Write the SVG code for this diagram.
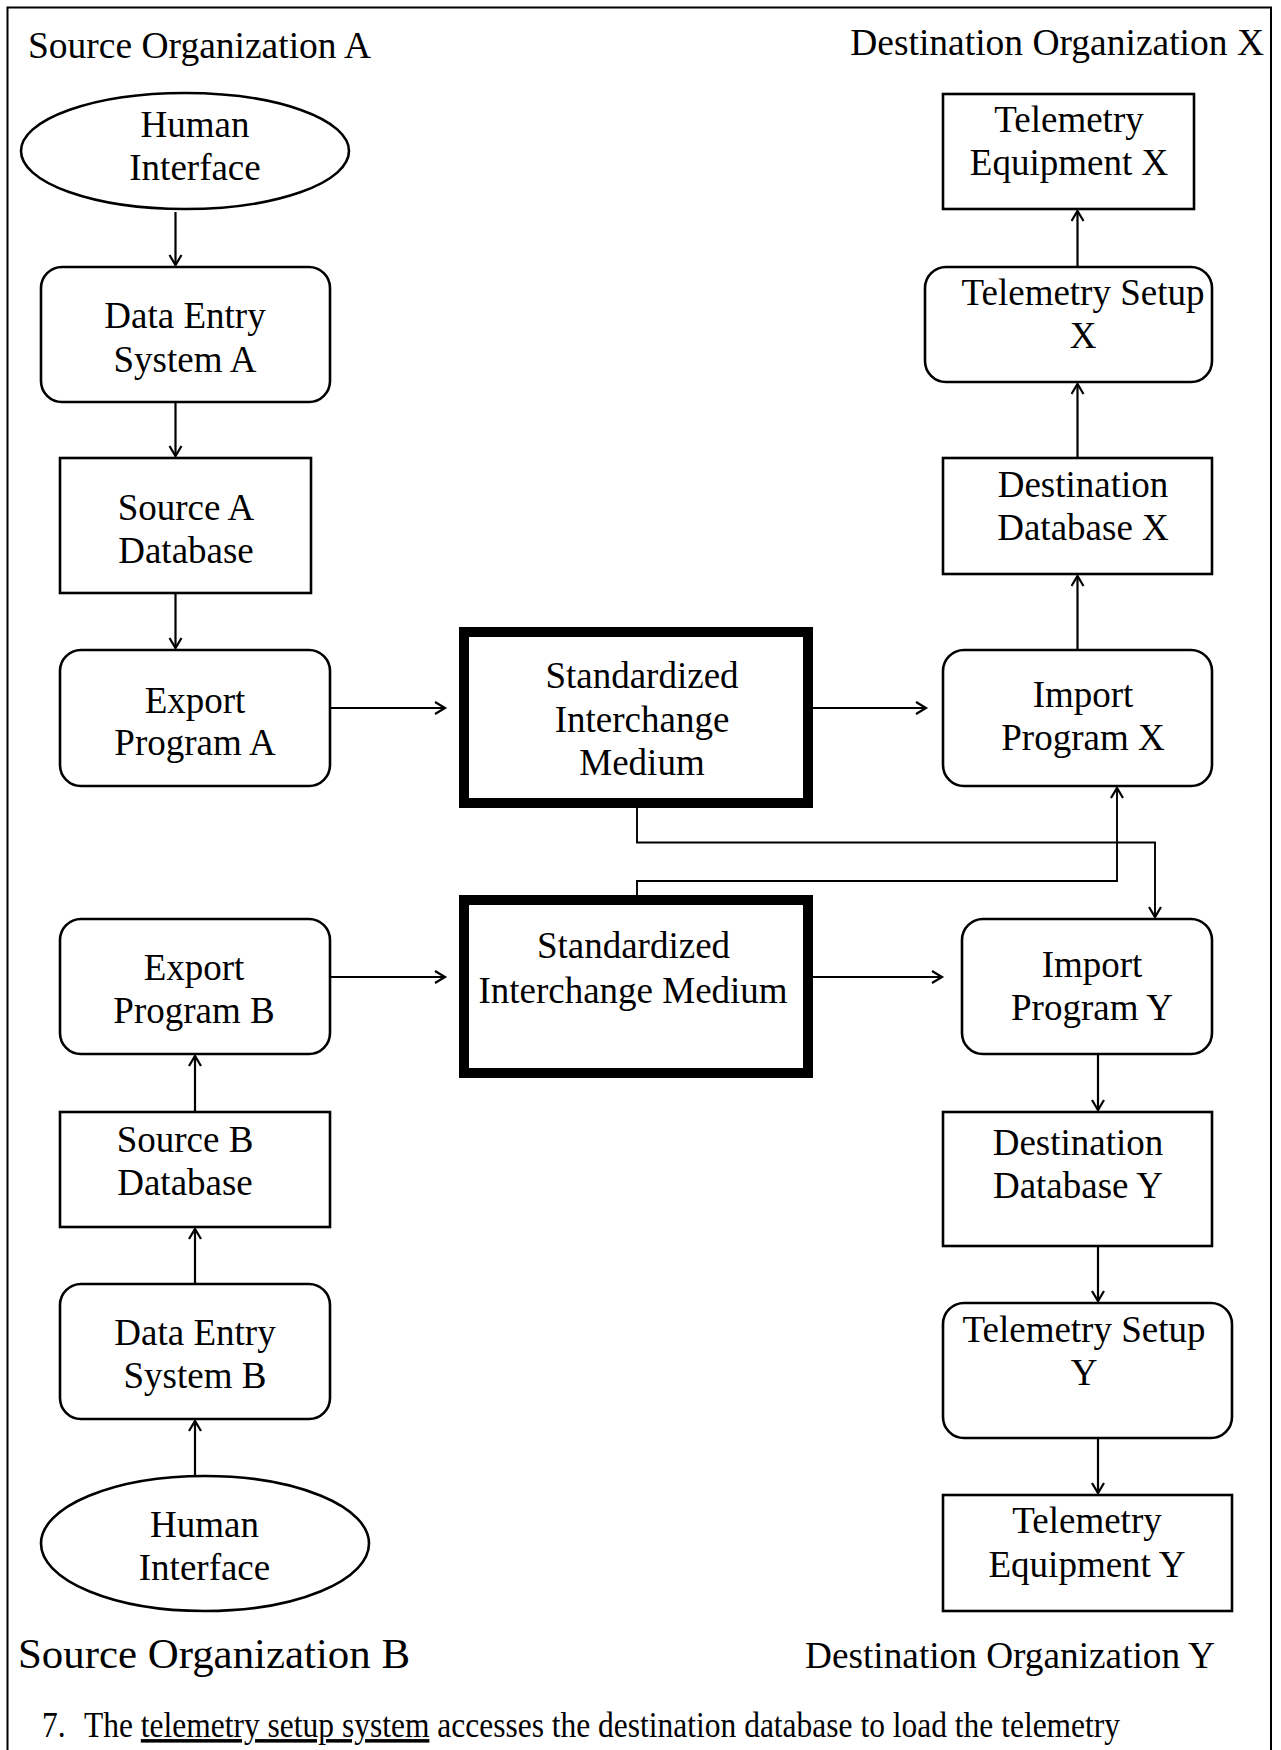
<svg xmlns="http://www.w3.org/2000/svg" width="1281" height="1750" viewBox="0 0 1281 1750">
<style>
.bx{fill:#fff;stroke:#000;stroke-width:2.6}
.thick{fill:#fff;stroke:#000;stroke-width:10}
.t{font-family:"Liberation Serif","Times New Roman",serif;font-size:37px;fill:#000;text-anchor:middle}
.lbl{font-family:"Liberation Serif","Times New Roman",serif;fill:#000}
.c{fill:none;stroke:#000;stroke-width:2.2}
.c2{fill:none;stroke:#000;stroke-width:1.9}
</style>
<defs>
<marker id="ah" markerUnits="userSpaceOnUse" markerWidth="14" markerHeight="16" refX="11" refY="7" orient="auto">
<path d="M1,1 L11,7 L1,13" fill="none" stroke="#000" stroke-width="2.2"/>
</marker>
</defs>
<rect width="1281" height="1750" fill="#fff"/>
<path d="M7.5,1752 V7.5 H1271 V1752" fill="none" stroke="#000" stroke-width="2"/>

<g id="labels">
<text class="lbl" x="28" y="58" font-size="37.5">Source Organization A</text>
<text class="lbl" x="1264" y="55" font-size="37.5" text-anchor="end">Destination Organization X</text>
<text class="lbl" x="18" y="1668" font-size="42" textLength="392" lengthAdjust="spacingAndGlyphs">Source Organization B</text>
<text class="lbl" x="805" y="1668" font-size="37" textLength="410" lengthAdjust="spacingAndGlyphs">Destination Organization Y</text>
<text class="lbl" x="42" y="1737" font-size="35" transform="translate(42,0) scale(0.9,1) translate(-42,0)">7.</text>
<text class="lbl" font-size="35" transform="translate(84,1737) scale(0.9,1)">The <tspan text-decoration="underline">telemetry setup system</tspan> accesses the destination database to load the telemetry</text>
</g>

<g id="human-interface-a">
<ellipse class="bx" cx="185" cy="151" rx="164" ry="58"/>
<text class="t" x="195" y="137">Human</text>
<text class="t" x="195" y="180">Interface</text>
</g>
<g id="data-entry-a">
<rect class="bx" x="41" y="267" width="289" height="135" rx="21"/>
<text class="t" x="185" y="328">Data Entry</text>
<text class="t" x="185" y="372">System A</text>
</g>
<g id="source-a-db">
<rect class="bx" x="60" y="458" width="251" height="135"/>
<text class="t" x="186" y="520">Source A</text>
<text class="t" x="186" y="563">Database</text>
</g>
<g id="export-a">
<rect class="bx" x="60" y="650" width="270" height="136" rx="21"/>
<text class="t" x="195" y="713">Export</text>
<text class="t" x="195" y="755">Program A</text>
</g>
<g id="sim-a">
<rect class="thick" x="464" y="632" width="344" height="171"/>
<text class="t" x="642" y="688">Standardized</text>
<text class="t" x="642" y="732">Interchange</text>
<text class="t" x="642" y="775">Medium</text>
</g>
<g id="import-x">
<rect class="bx" x="943" y="650" width="269" height="136" rx="21"/>
<text class="t" x="1083" y="707">Import</text>
<text class="t" x="1083" y="750">Program X</text>
</g>
<g id="dest-db-x">
<rect class="bx" x="943" y="458" width="269" height="116"/>
<text class="t" x="1083" y="497">Destination</text>
<text class="t" x="1083" y="540">Database X</text>
</g>
<g id="tel-setup-x">
<rect class="bx" x="925" y="267" width="287" height="115" rx="21"/>
<text class="t" x="1083" y="305">Telemetry Setup</text>
<text class="t" x="1083" y="348">X</text>
</g>
<g id="tel-equip-x">
<rect class="bx" x="943" y="94" width="251" height="115"/>
<text class="t" x="1069" y="132">Telemetry</text>
<text class="t" x="1069" y="175">Equipment X</text>
</g>
<g id="sim-b">
<rect class="thick" x="464" y="900" width="344" height="173"/>
<text class="t" x="633.5" y="958">Standardized</text>
<text class="t" x="633" y="1003">Interchange Medium</text>
</g>
<g id="import-y">
<rect class="bx" x="962" y="919" width="250" height="135" rx="21"/>
<text class="t" x="1092" y="977">Import</text>
<text class="t" x="1092" y="1020">Program Y</text>
</g>
<g id="dest-db-y">
<rect class="bx" x="943" y="1112" width="269" height="134"/>
<text class="t" x="1078" y="1155">Destination</text>
<text class="t" x="1078" y="1198">Database Y</text>
</g>
<g id="tel-setup-y">
<rect class="bx" x="943" y="1303" width="289" height="135" rx="21"/>
<text class="t" x="1084" y="1342">Telemetry Setup</text>
<text class="t" x="1084" y="1385">Y</text>
</g>
<g id="tel-equip-y">
<rect class="bx" x="943" y="1495" width="289" height="116"/>
<text class="t" x="1087" y="1533">Telemetry</text>
<text class="t" x="1087" y="1577">Equipment Y</text>
</g>
<g id="export-b">
<rect class="bx" x="60" y="919" width="270" height="135" rx="21"/>
<text class="t" x="194" y="980">Export</text>
<text class="t" x="194" y="1023">Program B</text>
</g>
<g id="source-b-db">
<rect class="bx" x="60" y="1112" width="270" height="115"/>
<text class="t" x="185" y="1152">Source B</text>
<text class="t" x="185" y="1195">Database</text>
</g>
<g id="data-entry-b">
<rect class="bx" x="60" y="1284" width="270" height="135" rx="21"/>
<text class="t" x="195" y="1345">Data Entry</text>
<text class="t" x="195" y="1388">System B</text>
</g>
<g id="human-interface-b">
<ellipse class="bx" cx="205" cy="1543.5" rx="164" ry="67.5"/>
<text class="t" x="204.5" y="1537">Human</text>
<text class="t" x="204.5" y="1580">Interface</text>
</g>

<g id="connectors">
<path class="c" d="M175.5,212 V265" marker-end="url(#ah)"/>
<path class="c" d="M175.5,402 V456" marker-end="url(#ah)"/>
<path class="c" d="M175.5,594 V648" marker-end="url(#ah)"/>
<path class="c" d="M331,708 H445" marker-end="url(#ah)"/>
<path class="c" d="M813,708 H926" marker-end="url(#ah)"/>
<path class="c" d="M1077.5,650 V576" marker-end="url(#ah)"/>
<path class="c" d="M1077.5,458 V384" marker-end="url(#ah)"/>
<path class="c" d="M1077.5,267 V211" marker-end="url(#ah)"/>
<path class="c2" d="M637,808 V842.5 H1155 V917" marker-end="url(#ah)"/>
<path class="c2" d="M637,895 V881 H1117 V788" marker-end="url(#ah)"/>
<path class="c" d="M331,977 H445" marker-end="url(#ah)"/>
<path class="c" d="M813,977 H942" marker-end="url(#ah)"/>
<path class="c" d="M1098,1054 V1110" marker-end="url(#ah)"/>
<path class="c" d="M1098,1246 V1301" marker-end="url(#ah)"/>
<path class="c" d="M1098,1438 V1493" marker-end="url(#ah)"/>
<path class="c" d="M195,1112 V1056" marker-end="url(#ah)"/>
<path class="c" d="M195,1284 V1229" marker-end="url(#ah)"/>
<path class="c" d="M195,1476 V1421" marker-end="url(#ah)"/>
</g>
</svg>
